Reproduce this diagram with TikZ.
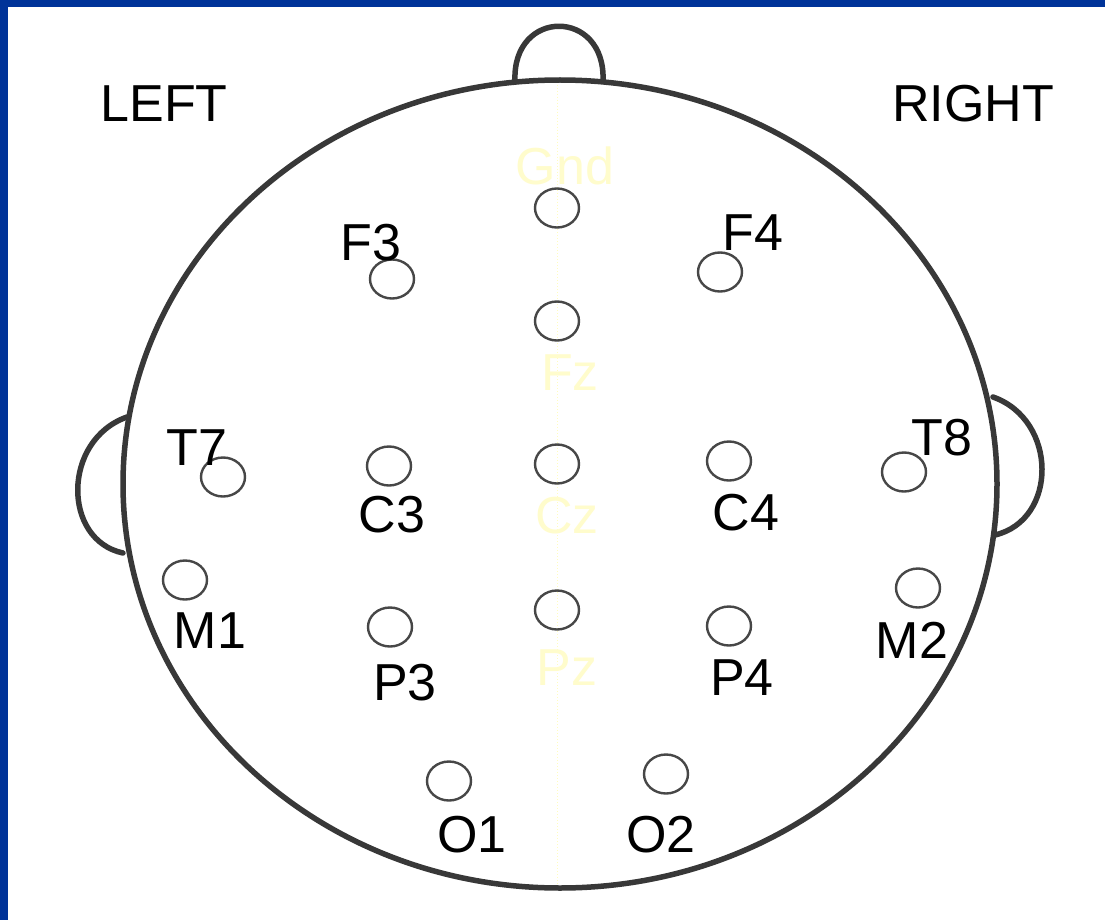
\documentclass[tikz,border=0pt]{standalone}
\usepackage{fontspec}
\usetikzlibrary{shapes.geometric}
\setmainfont{Liberation Sans}
\begin{document}
\begin{tikzpicture}[x=1pt,y=-1pt,
  outline/.style={draw=black!78,line width=5.5pt,line cap=round,line join=round},
  elec/.style={draw=black!72,line width=2.4pt,shape=ellipse,minimum width=44pt,minimum height=39pt,inner sep=0pt},
  lbl/.style={font=\fontsize{52}{60}\selectfont,text=black,anchor=base,inner sep=0pt},
  mid/.style={font=\fontsize{52}{60}\selectfont,text=yellow!20,anchor=base,inner sep=0pt}]
\definecolor{border}{RGB}{0,51,153}
\useasboundingbox (0,0) rectangle (1105,920);
\fill[white] (0,0) rectangle (1105,920);
\fill[border] (0,0) rectangle (1105,7);
\fill[border] (0,0) rectangle (8,920);
% midline
\draw[yellow!25,line width=1pt,dotted] (557,85) -- (557,886);
% head
\draw[outline] (560,484) ellipse [x radius=437, y radius=404];
% nose
\draw[outline] (515,81) .. controls (512,8) and (606,8) .. (603,81);
% ears
\draw[outline] (127,417) .. controls (62,440) and (62,540) .. (123,553);
\draw[outline] (993,397) .. controls (1058,420) and (1058,520) .. (995,535);
% electrodes
\node[elec] (gnd) at (557,208) {};
\node[elec] (fz) at (557,321) {};
\node[elec] (cz) at (557,464) {};
\node[elec] (pz) at (557,610) {};
\node[elec] (f3) at (392,279) {};
\node[elec] (f4) at (720,272) {};
\node[elec] (t7) at (223,477) {};
\node[elec] (c3) at (389,466) {};
\node[elec] (c4) at (729,461) {};
\node[elec] (t8) at (904,472) {};
\node[elec] (m1) at (185,580) {};
\node[elec] (m2) at (918,588) {};
\node[elec] (p3) at (390,627) {};
\node[elec] (p4) at (729,626) {};
\node[elec] (o1) at (449,781) {};
\node[elec] (o2) at (666,774) {};
% labels
\node[lbl] (left) at (164,122) {LEFT};
\node[lbl] (right) at (973,122) {RIGHT};
\node[mid] (lgnd) at (565,185) {Gnd};
\node[mid] (lfz) at (570,390) {Fz};
\node[mid] (lcz) at (567,533) {Cz};
\node[mid] (lpz) at (567,685) {Pz};
\node[lbl] (lf3) at (371,260) {F3};
\node[lbl] (lf4) at (753,250) {F4};
\node[lbl] (lt7) at (197,465) {T7};
\node[lbl] (lt8) at (942,455) {T8};
\node[lbl] (lc3) at (392,532) {C3};
\node[lbl] (lc4) at (746,530) {C4};
\node[lbl] (lm1) at (210,648) {M1};
\node[lbl] (lm2) at (912,658) {M2};
\node[lbl] (lp3) at (405,700) {P3};
\node[lbl] (lp4) at (742,695) {P4};
\node[lbl] (lo1) at (472,852) {O1};
\node[lbl] (lo2) at (661,852) {O2};
\end{tikzpicture}
\end{document}
